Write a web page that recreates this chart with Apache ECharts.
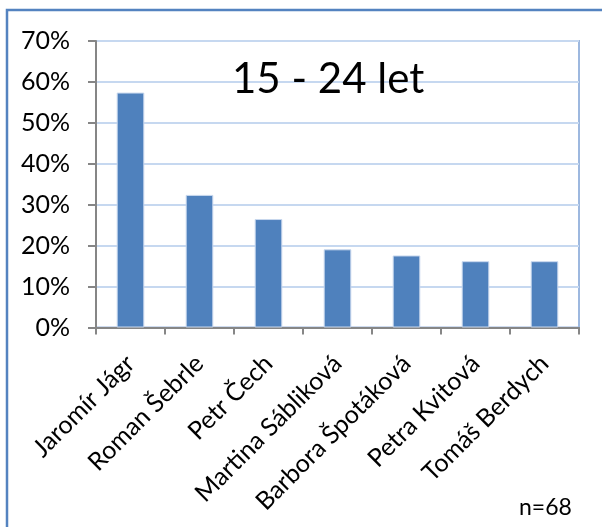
<!DOCTYPE html>
<html><head><meta charset="utf-8">
<script src="https://cdn.jsdelivr.net/npm/echarts@6/dist/echarts.min.js"></script>
<style>html,body{margin:0;padding:0;background:#fff}#c{width:602px;height:527px}</style>
</head><body><div id="c"></div>
<script>
const categories = ['Jaromír Jágr','Roman Šebrle','Petr Čech','Martina Sábliková','Barbora Špotáková','Petra Kvitová','Tomáš Berdych'];
const values = [57.4, 32.4, 26.5, 19.1, 17.6, 16.2, 16.2];
const titleText = '15 - 24 let';
const noteText = 'n=68';
const FONT = 'Lato, "Open Sans", sans-serif';

const chart = echarts.init(document.getElementById('c'), null, {renderer:'canvas'});
chart.setOption({
  animation:false,
  backgroundColor:'#fff',
  graphic:[
    {type:'rect', shape:{x:7, y:10, width:640, height:560}, style:{fill:'none', stroke:'#5483c0', lineWidth:2.5}, z:-1},
    {type:'text', left:232, top:58, style:{text:titleText, font:'42px ' + FONT, fill:'#000'}, z:10},
    {type:'text', left:519, top:496, style:{text:noteText, font:'23px ' + FONT, fill:'#000'}}
  ],
  grid:{left:96, right:23, top:41, bottom:199.5, show:true, borderColor:'#9db8df', borderWidth:2, backgroundColor:'transparent'},
  xAxis:{
    type:'category', data:categories,
    axisLine:{lineStyle:{color:'#868686', width:2}},
    axisTick:{show:true, length:7, lineStyle:{color:'#868686', width:2}},
    axisLabel:{rotate:45, color:'#000', fontSize:25, fontFamily:FONT, margin:32, interval:0}
  },
  yAxis:{
    type:'value', min:0, max:70, interval:10,
    axisLine:{show:true, lineStyle:{color:'#868686', width:2}},
    axisTick:{show:true, length:8, lineStyle:{color:'#868686', width:2}},
    axisLabel:{formatter:'{value}%', color:'#000', fontSize:25, fontFamily:FONT, margin:26},
    splitLine:{lineStyle:{color:'#c6d8f0', width:2}}
  },
  series:[{
    type:'bar', data:values, barWidth:'40%',
    itemStyle:{color:'#4f81bd', borderColor:'#c9d8ee', borderWidth:1}
  }]
});
</script></body></html>
